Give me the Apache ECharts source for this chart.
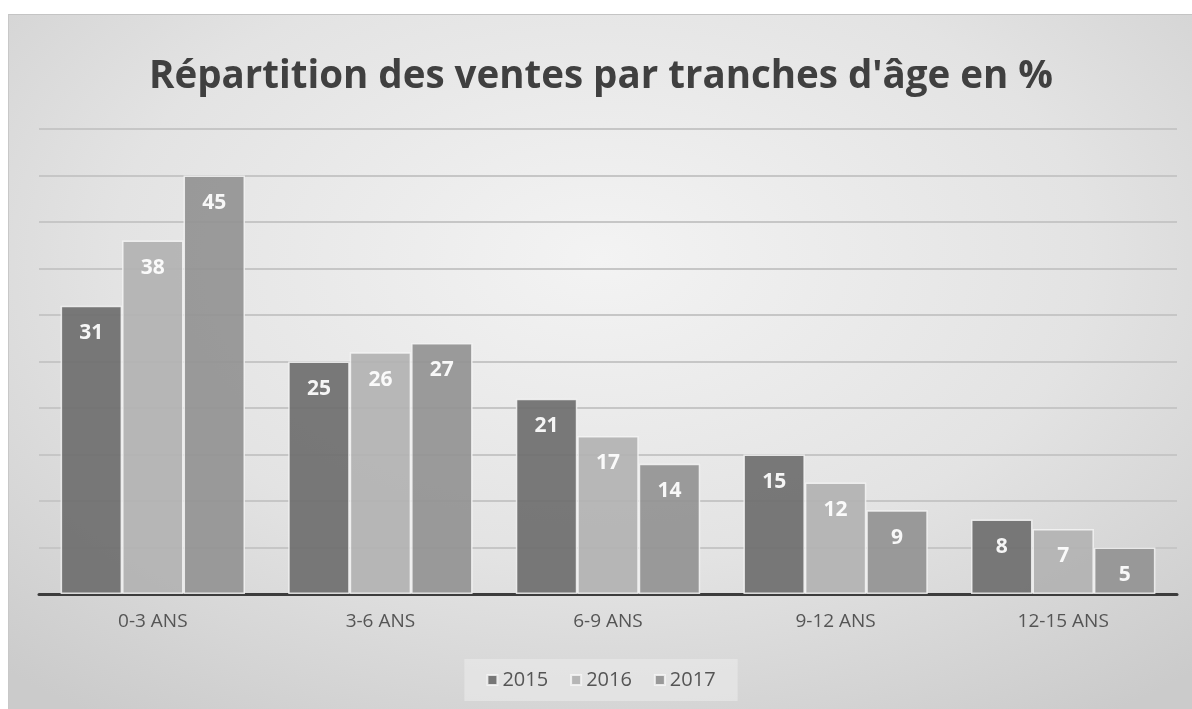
<!DOCTYPE html>
<html>
<head>
<meta charset="utf-8">
<script src="https://cdn.jsdelivr.net/npm/echarts@6/dist/echarts.min.js"></script>
<style>
html,body{margin:0;padding:0;width:1192px;height:709px;background:#fff;overflow:hidden;}
#box{position:absolute;left:8px;top:14px;width:1184px;height:695px;
 background:radial-gradient(ellipse 75% 80% at 50% 35%, #f3f3f3 0%, #e3e3e3 55%, #cbcbcb 100%);
 border-top:1px solid #c4c4c4;border-left:1px solid #c8c8c8;}
#chart{position:absolute;left:0;top:0;width:1184px;height:695px;}
</style>
</head>
<body>
<div id="box"><div id="chart"></div></div>
<script>
const title = "Répartition des ventes par tranches d'âge en %";
const categories = ["0-3 ANS", "3-6 ANS", "6-9 ANS", "9-12 ANS", "12-15 ANS"];
const seriesNames = ["2015", "2016", "2017"];
const values2015 = [31, 25, 21, 15, 8];
const values2016 = [38, 26, 17, 12, 7];
const values2017 = [45, 27, 14, 9, 5];
const colors = ["#6f6f6f", "#b3b3b3", "#939393"];

const chart = echarts.init(document.getElementById('chart'));
const allValues = [values2015, values2016, values2017];
const font = "'Open Sans', 'Noto Sans', sans-serif";
chart.setOption({
  animation: false,
  backgroundColor: 'transparent',
  title: {
    text: title, left: 'center', top: 38,
    textStyle: {fontFamily: font, fontSize: 38.5, fontWeight: 'bold', color: '#404040'}
  },
  legend: {
    data: seriesNames, bottom: 9, left: 'center',
    icon: 'rect', itemWidth: 10, itemHeight: 10, itemGap: 22,
    padding: [11, 22],
    backgroundColor: 'rgba(235,235,235,0.6)',
    textStyle: {fontFamily: font, fontSize: 20, color: '#555'}
  },
  grid: {left: 30, right: 16, top: 114, bottom: 116},
  xAxis: {
    type: 'category', data: categories,
    axisLine: {lineStyle: {color: '#3c3c3c', width: 3}},
    axisTick: {show: false},
    axisLabel: {fontFamily: font, fontSize: 19, color: '#555', margin: 18}
  },
  yAxis: {
    type: 'value', min: 0, max: 50, interval: 5,
    axisLabel: {show: false}, axisLine: {show: false}, axisTick: {show: false},
    splitLine: {lineStyle: {color: '#c6c6c6', width: 2}}
  },
  series: seriesNames.map((n, i) => ({
    name: n, type: 'bar', data: allValues[i],
    barGap: '0%', barCategoryGap: '19%',
    itemStyle: {color: colors[i], opacity: 0.93, borderColor: 'rgba(245,245,245,0.9)', borderWidth: 1.5},
    label: {show: true, position: 'insideTop', distance: 17,
      fontFamily: font, fontSize: 21, fontWeight: 'bold', color: '#fff'}
  }))
});
</script>
</body>
</html>
